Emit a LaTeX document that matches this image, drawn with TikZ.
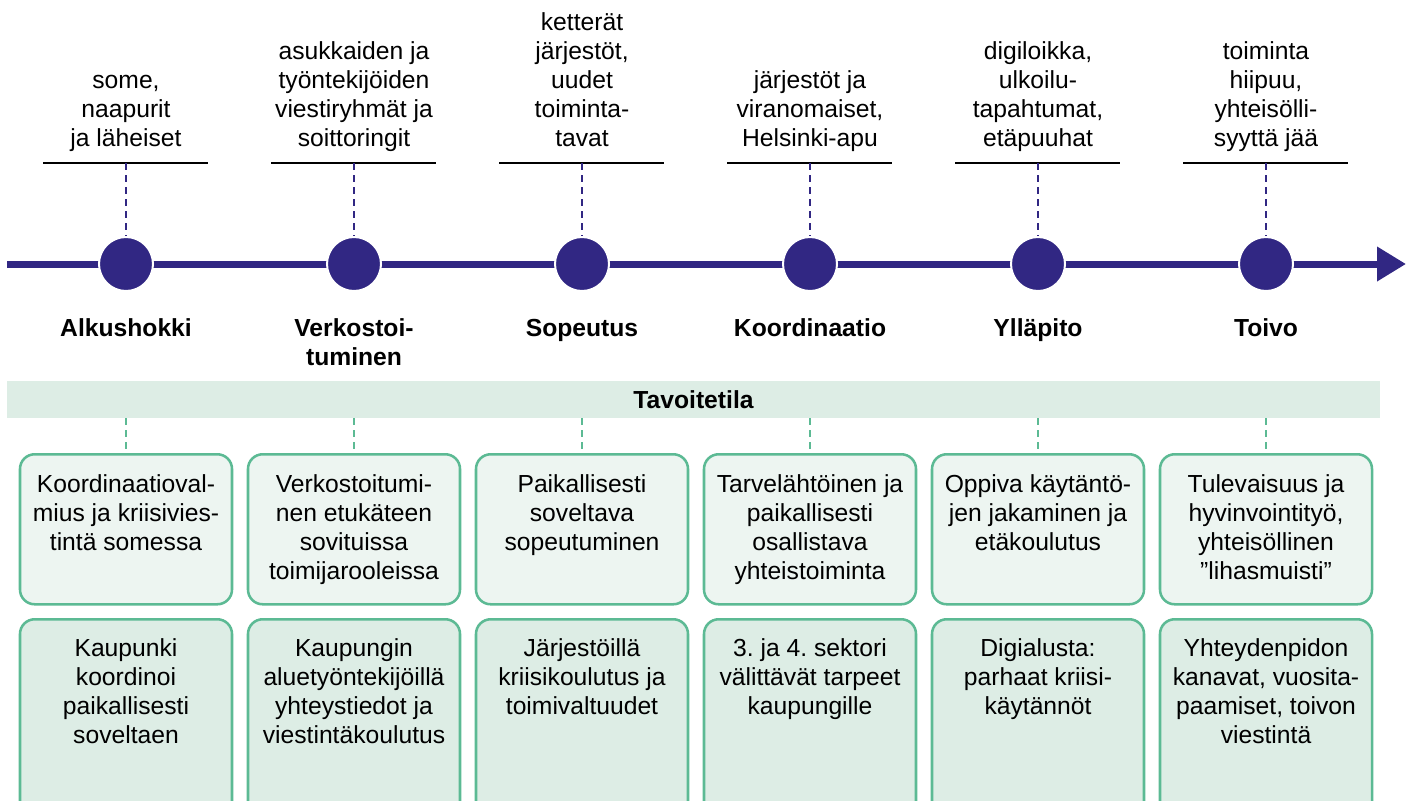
\documentclass[tikz,border=0pt]{standalone}
\usepackage{fontspec}
\setmainfont{Liberation Sans}
\usetikzlibrary{arrows.meta}
\definecolor{tlpurple}{HTML}{312783}
\definecolor{tlgreen}{HTML}{5CBA94}
\definecolor{bandfill}{HTML}{DDEDE5}
\definecolor{upfill}{HTML}{EDF5F1}
\definecolor{lowfill}{HTML}{DDEDE5}
\frenchspacing
\begin{document}
\begin{tikzpicture}[x=0.75pt,y=-0.75pt,
  txt/.style={font=\fontsize{18.5}{21.75}\selectfont, align=center, inner sep=0pt},
  toptext/.style={txt, anchor=south},
  phase/.style={txt, font=\fontsize{18.5}{21.75}\selectfont\bfseries, anchor=north},
  boxtext/.style={txt, anchor=north},
  dot/.style={circle, fill=tlpurple, draw=white, line width=1.5pt, minimum size=40.5pt, inner sep=0pt},
  tline/.style={draw=tlpurple, line width=5.25pt, -{Triangle[length=21.75pt,width=24.75pt]}},
  hline/.style={draw=black, line width=1.8pt},
  pdash/.style={draw=tlpurple, line width=2pt, dash pattern=on 5pt off 4pt},
  gdash/.style={draw=tlgreen, line width=2.2pt, dash pattern=on 5pt off 4pt},
  band/.style={fill=bandfill, minimum width=1029.75pt, minimum height=27.75pt, inner sep=0pt, font=\fontsize{18.5}{21.75}\selectfont\bfseries},
  upbox/.style={draw=tlgreen, fill=upfill, line width=1.9pt, rounded corners=11pt, minimum width=159pt, minimum height=112.5pt, inner sep=0pt, anchor=north},
  lowbox/.style={draw=tlgreen, fill=lowfill, line width=1.9pt, rounded corners=11pt, minimum width=159pt, minimum height=148pt, inner sep=0pt, anchor=north}
]
\clip (0,0) rectangle (1417,800);
\useasboundingbox (0,0) rectangle (1417,800);

% timeline
\coordinate (ls) at (7,264);
\coordinate (le) at (1406,264);
\draw[tline] (ls) -- (le);

% band
\node[band] (band) at (693.5,399.5) {\raisebox{-2.5pt}{Tavoitetila}};

% top texts
\node[toptext] (tt1) at (126,155.5) {some,\\naapurit\\ja läheiset\strut};
\node[toptext] (tt2) at (354,155.5) {asukkaiden ja\\työntekijöiden\\viestiryhmät ja\\soittoringit\strut};
\node[toptext] (tt3) at (582,155.5) {ketterät\\järjestöt,\\uudet\\toiminta-\\tavat\strut};
\node[toptext] (tt4) at (810,155.5) {järjestöt ja\\viranomaiset,\\Helsinki-apu\strut};
\node[toptext] (tt5) at (1038,155.5) {digiloikka,\\ulkoilu-\\tapahtumat,\\etäpuuhat\strut};
\node[toptext] (tt6) at (1266,155.5) {toiminta\\hiipuu,\\yhteisölli-\\syyttä jää\strut};

% horizontal lines under top texts
\foreach \i/\x in {1/126,2/354,3/582,4/810,5/1038,6/1266}{
  \coordinate (h\i) at (\x,163);
  \coordinate (hl\i) at (\x-83,163);
  \coordinate (hr\i) at (\x+82,163);
  \draw[hline] (hl\i) -- (hr\i);
}

% dots
\foreach \i/\x in {1/126,2/354,3/582,4/810,5/1038,6/1266}{
  \node[dot] (d\i) at (\x,264) {};
  \draw[pdash] (h\i) -- (d\i.north);
}

% phase labels
\node[phase] (p1) at (126,315.5) {\strut Alkushokki};
\node[phase] (p2) at (354,315.5) {\strut Verkostoi-\\tuminen};
\node[phase] (p3) at (582,315.5) {\strut Sopeutus};
\node[phase] (p4) at (810,315.5) {\strut Koordinaatio};
\node[phase] (p5) at (1038,315.5) {\strut Ylläpito};
\node[phase] (p6) at (1266,315.5) {\strut Toivo};

% boxes
\foreach \i/\x in {1/126,2/354,3/582,4/810,5/1038,6/1266}{
  \node[upbox] (u\i) at (\x,453) {};
  \draw[gdash] (band.south -| u\i.north) -- (u\i.north);
  \node[lowbox] (l\i) at (\x,618) {};
}
\node[boxtext] (ut1) at (126,471.5) {\strut Koordinaatioval-\\mius ja kriisivies-\\tintä somessa};
\node[boxtext] (ut2) at (354,471.5) {\strut Verkostoitumi-\\nen etukäteen\\sovituissa\\toimijarooleissa};
\node[boxtext] (ut3) at (582,471.5) {\strut Paikallisesti\\soveltava\\sopeutuminen};
\node[boxtext] (ut4) at (810,471.5) {\strut Tarvelähtöinen ja\\paikallisesti\\osallistava\\yhteistoiminta};
\node[boxtext] (ut5) at (1038,471.5) {\strut Oppiva käytäntö-\\jen jakaminen ja\\etäkoulutus};
\node[boxtext] (ut6) at (1266,471.5) {\strut Tulevaisuus ja\\hyvinvointityö,\\yhteisöllinen\\”lihasmuisti”};

\node[boxtext] (lt1) at (126,635.5) {\strut Kaupunki\\koordinoi\\paikallisesti\\soveltaen};
\node[boxtext] (lt2) at (354,635.5) {\strut Kaupungin\\aluetyöntekijöillä\\yhteystiedot ja\\viestintäkoulutus};
\node[boxtext] (lt3) at (582,635.5) {\strut Järjestöillä\\kriisikoulutus ja\\toimivaltuudet};
\node[boxtext] (lt4) at (810,635.5) {\strut 3. ja 4. sektori\\välittävät tarpeet\\kaupungille};
\node[boxtext] (lt5) at (1038,635.5) {\strut Digialusta:\\parhaat kriisi-\\käytännöt};
\node[boxtext] (lt6) at (1266,635.5) {\strut Yhteydenpidon\\kanavat, vuosita-\\paamiset, toivon\\viestintä};
\end{tikzpicture}
\end{document}
